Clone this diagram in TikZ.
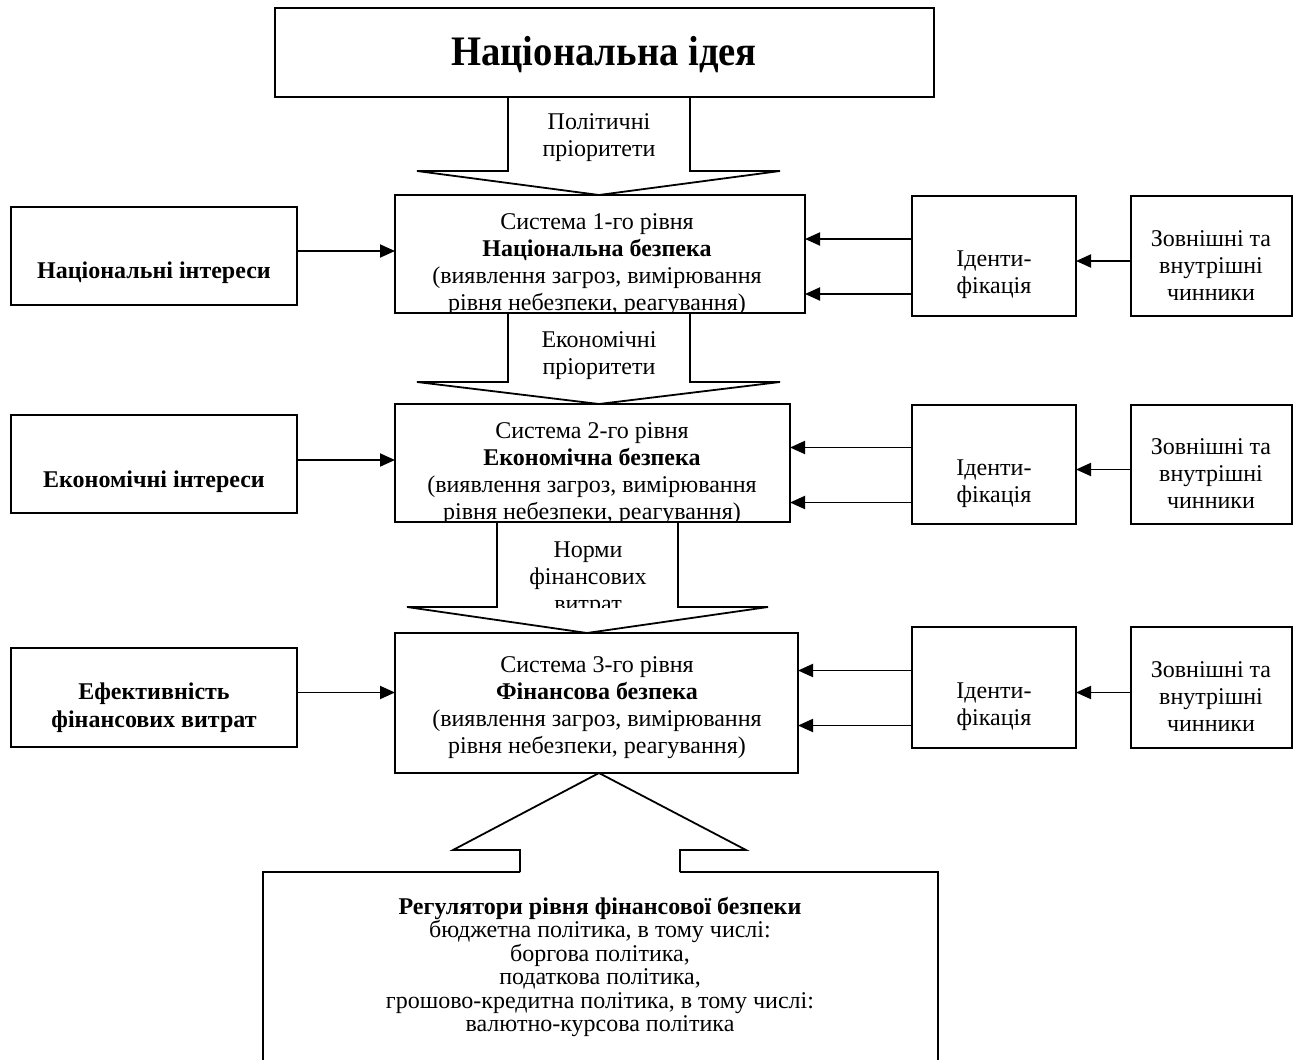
\documentclass[tikz,border=0pt]{standalone}
\usepackage{fontspec}
\setmainfont{Liberation Serif}
\newfontfamily\condfont[FakeStretch=0.92]{Liberation Serif}
\newcommand\regfont{\fontsize{24}{23.4}\selectfont\lineskiplimit=-100pt\relax}
\usetikzlibrary{arrows.meta,calc}
\begin{document}
\begin{tikzpicture}[x=1pt,y=-1pt,
  box/.style={draw, line width=1.8pt, inner sep=0pt, outer sep=0pt, anchor=north west},
  txt/.style={align=center, inner sep=0pt, font=\fontsize{24}{27}\selectfont},
  btxt/.style={align=center, inner sep=0pt, font=\fontsize{24}{28}\selectfont\bfseries},
  arr/.style={-{Triangle[length=15pt,width=13pt]}, line width=1.9pt},
  blk/.style={draw, fill=white, line width=1.8pt, line join=miter}]
\useasboundingbox (0,0) rectangle (1304,1060);
% block arrows (drawn first)
\draw[blk] (508,97) -- (508,171) -- (417,171) -- (599,195) -- (780,171) -- (690,171) -- (690,97);
\draw[blk] (508,313) -- (508,382) -- (417,382) -- (599,404) -- (780,382) -- (690,382) -- (690,313);
\draw[blk] (497,522) -- (497,607) -- (407,607) -- (587,633) -- (768,607) -- (678,607) -- (678,522);
\draw[blk] (520,872) -- (520,850) -- (453,850) -- (599,773) -- (746,850) -- (680,850) -- (680,872);
% boxes
\node[box, minimum width=659pt, minimum height=89pt] (idea) at (275,8) {};
\node[box, minimum width=410pt, minimum height=118pt] (sys1) at (395,195) {};
\node[box, minimum width=395pt, minimum height=118pt] (sys2) at (395,404) {};
\node[box, minimum width=403pt, minimum height=140pt] (sys3) at (395,633) {};
\node[box, minimum width=286pt, minimum height=98pt] (ni) at (11,207) {};
\node[box, minimum width=286pt, minimum height=98pt] (ei) at (11,415) {};
\node[box, minimum width=286pt, minimum height=99pt] (ef) at (11,648) {};
\node[box, minimum width=164pt, minimum height=120pt] (id1) at (912,196) {};
\node[box, minimum width=164pt, minimum height=119pt] (id2) at (912,405) {};
\node[box, minimum width=164pt, minimum height=121pt] (id3) at (912,627) {};
\node[box, minimum width=161pt, minimum height=120pt] (ch1) at (1131,196) {};
\node[box, minimum width=161pt, minimum height=119pt] (ch2) at (1131,405) {};
\node[box, minimum width=161pt, minimum height=121pt] (ch3) at (1131,627) {};
% bottom box (cut by the page edge)
\draw[line width=1.8pt] (520,872) -- (263,872) -- (263,1070);
\draw[line width=1.8pt] (680,872) -- (938,872) -- (938,1070);
% texts
\node[inner sep=0pt, font=\fontsize{42}{44}\condfont\bfseries] (ideat) at (604,55) {Національна ідея};
\node[txt] (a1t) at (599,138) {Політичні\\пріоритети};
\node[txt] (a2t) at (599,356) {Економічні\\пріоритети};
\begin{scope}
\clip (400,522) rectangle (780,607);
\node[txt] (a3t) at (588,579) {Норми\\фінансових\\витрат};
\end{scope}
\begin{scope}
\clip (sys1.north west) rectangle ([yshift=0.9pt]sys1.south east);
\node[txt] (s1t) at (597,265) {Система 1-го рівня\\\textbf{Національна безпека}\\(виявлення загроз, вимірювання\\рівня небезпеки, реагування)};
\end{scope}
\begin{scope}
\clip (sys2.north west) rectangle ([yshift=0.9pt]sys2.south east);
\node[txt] (s2t) at (592,474) {Система 2-го рівня\\\textbf{Економічна безпека}\\(виявлення загроз, вимірювання\\рівня небезпеки, реагування)};
\end{scope}
\node[txt] (s3t) at (597,708) {Система 3-го рівня\\\textbf{Фінансова безпека}\\(виявлення загроз, вимірювання\\рівня небезпеки, реагування)};
\node[btxt] (nit) at (154,273) {Національні інтереси};
\node[btxt] (eit) at (154,482) {Економічні інтереси};
\node[btxt] (eft) at (154,708) {Ефективність\\фінансових витрат};
\node[txt] (id1t) at (994,275) {Іденти-\\фікація};
\node[txt] (id2t) at (994,484) {Іденти-\\фікація};
\node[txt] (id3t) at (994,707) {Іденти-\\фікація};
\node[txt] (ch1t) at (1211,266) {Зовнішні та\\внутрішні\\чинники};
\node[txt] (ch2t) at (1211,474) {Зовнішні та\\внутрішні\\чинники};
\node[txt] (ch3t) at (1211,697) {Зовнішні та\\внутрішні\\чинники};
\node[align=center, inner sep=0pt, font=\regfont] (regt) at (600,967) {\textbf{Регулятори рівня фінансової безпеки}\\бюджетна політика, в тому числі:\\боргова політика,\\податкова політика,\\грошово-кредитна політика, в тому числі:\\валютно-курсова політика};
% connectors
\draw[arr] ([yshift=5pt]ni.east) -- ([yshift=5pt]ni.east -| sys1.west);
\draw[arr] ([yshift=4pt]ei.east) -- ([yshift=4pt]ei.east -| sys2.west);
\draw[arr] ([yshift=5pt]ef.east) -- ([yshift=5pt]ef.east -| sys3.west);
\foreach \i/\s in {1/sys1,2/sys2,3/sys3}{
  \draw[arr] ([yshift=17pt]id\i.west) -- ([yshift=17pt]id\i.west -| \s.east);
  \draw[arr] ([yshift=-38pt]id\i.west) -- ([yshift=-38pt]id\i.west -| \s.east);
  \draw[arr] ([yshift=-5pt]ch\i.west) -- ([yshift=-5pt]ch\i.west -| id\i.east);
}
\end{tikzpicture}
\end{document}
